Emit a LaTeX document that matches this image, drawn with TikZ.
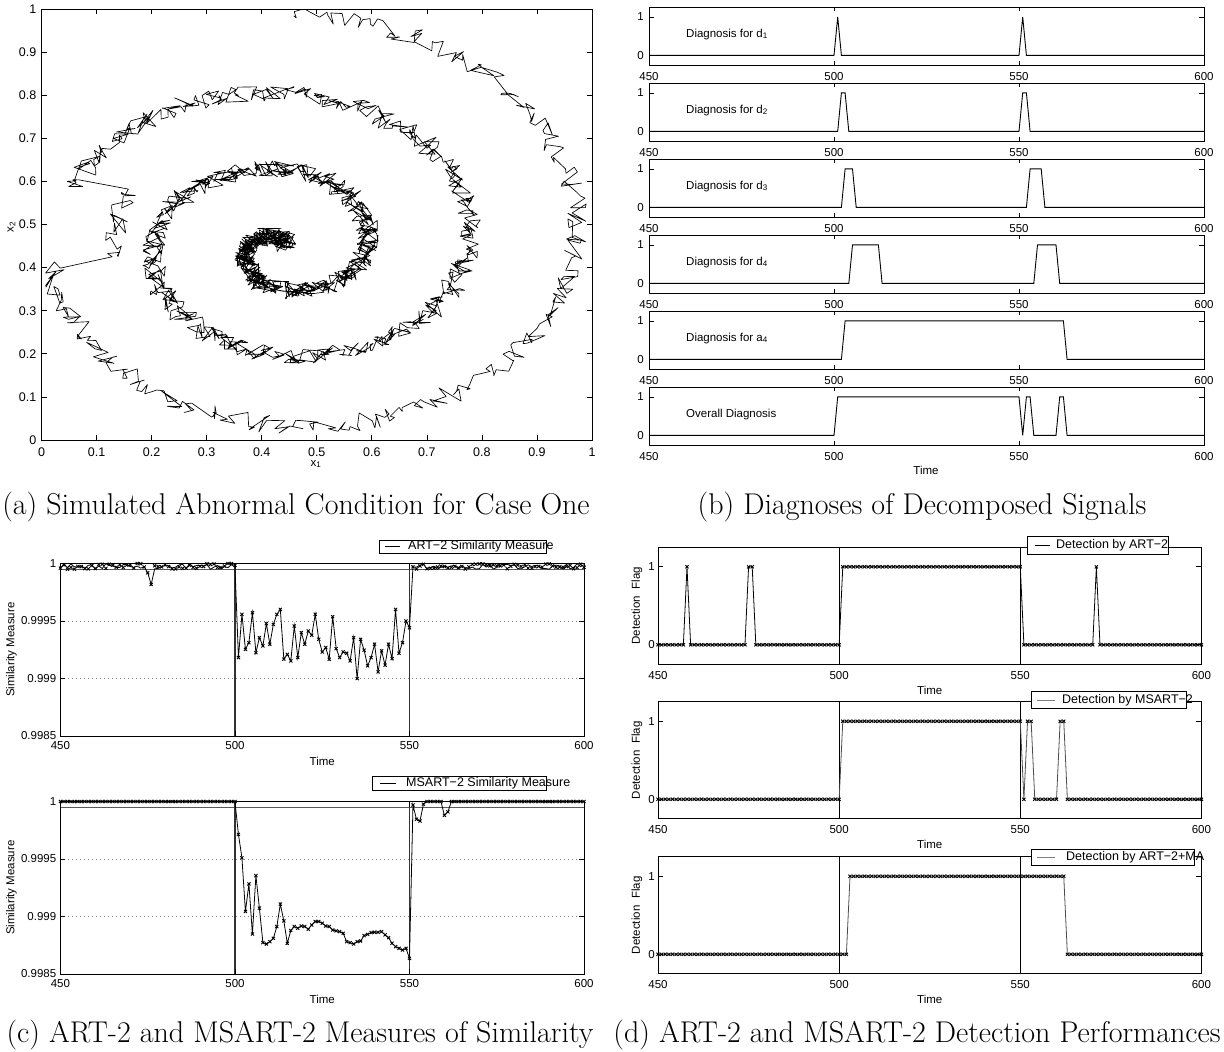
\documentclass[tikz,border=0pt]{standalone}
\usepackage{fontspec}
\usepackage{tikz}
\newfontfamily\plotfont{Liberation Sans}
\tikzset{
  axisbox/.style={draw, line width=0.9pt},
  tk/.style={line width=0.7pt},
  ticklabel/.style={font=\plotfont\fontsize{11.5}{13}\selectfont, inner sep=1pt},
  bigticklabel/.style={font=\plotfont\fontsize{12.5}{14}\selectfont, inner sep=1pt},
  axislabel/.style={font=\plotfont\fontsize{11.5}{13}\selectfont, inner sep=1pt},
  diaglabel/.style={font=\plotfont\fontsize{11.5}{13}\selectfont, inner sep=0pt, anchor=west},
  leglabel/.style={font=\plotfont\fontsize{12.5}{14}\selectfont, inner sep=0pt, anchor=west},
  legbox/.style={draw, fill=white, line width=0.9pt},
  legline/.style={line width=0.9pt},
  caption/.style={font=\fontsize{30}{34}\selectfont, inner sep=0pt},
  trace/.style={line width=0.65pt, line join=round},
  sigline/.style={line width=0.9pt},
  art/.style={line width=0.8pt, mark=x, mark size=2.2pt, mark options={line width=0.9pt}},
  msart/.style={line width=0.8pt, gray!60!black, mark=x, mark size=2.2pt,
    mark options={black, line width=0.9pt}},
  gridline/.style={gray, line width=0.7pt, dash pattern=on 1pt off 3pt},
  thresh/.style={gray!70!black, line width=0.9pt},
  eventline/.style={gray!40!black, line width=1.4pt},
  % data frames of the subplots (pixel shift, then data units)
  subb/.style={shift={({-1016pt},{-(55.4+76*#1)*1pt})}, x=3.7pt, y=38.47pt},
  subc/.style={shift={({-1510.4pt},{-#1*1pt})}, x=3.4907pt, y=11.5pt},
  subd/.style={shift={({-972.2pt},{-#1*1pt})}, x=3.6227pt, y=78pt}
}

\begin{document}
\begin{tikzpicture}[x=1pt, y=-1pt]
  \useasboundingbox (0,0) rectangle (1224,1052);

  % ---------------- (a) spiral trajectory ----------------
  \begin{scope}[shift={(41.5,440)}, x=550.5pt, y=431pt]
    \begin{scope}
      \clip (0,0) rectangle (1,1);
      \pgfmathsetseed{11}
      \draw[trace]
        plot[domain=0:262, samples=320, variable=\t]
          ({0.45-0.012*\t/1100+1.1*0.52*(1-\t/1150)^1.1*sin(\t)+0.02*rand},
           {0.47-0.03*\t/1100+0.52*(1-\t/1150)^1.1*cos(\t)+0.02*rand})
        -- plot[domain=264:288, samples=30, variable=\t]
          ({0.56-0.012*\t/1100+1.1*0.52*(1-\t/1150)^1.1*sin(\t)+0.02*rand},
           {0.47-0.03*\t/1100+0.52*(1-\t/1150)^1.1*cos(\t)+0.02*rand})
        -- plot[domain=290:1100, samples=1400, variable=\t]
          ({0.45-0.012*\t/1100+1.1*0.52*(1-\t/1150)^1.1*sin(\t)+0.02*rand},
           {0.47-0.03*\t/1100+0.52*(1-\t/1150)^1.1*cos(\t)+0.02*rand});
    \end{scope}
    % Axes
    \draw[axisbox] (0,0) rectangle (1,1);
    \foreach \v [count=\i] in {0,0.1,0.2,0.3,0.4,0.5,0.6,0.7,0.8,0.9,1} {
      \draw[tk] (\v,0) -- ++(0,5pt) (\v,1) -- ++(0,-5pt)
                (0,\v) -- ++(5pt,0) (1,\v) -- ++(-5pt,0);
      \node[bigticklabel, yshift=-12pt] (xa\i) at (\v,0) {\v};
      \node[bigticklabel, anchor=east, xshift=-4pt] (ya\i) at (0,\v) {\v};
    }
  \end{scope}
  \node[axislabel] (xlaba) at (316,464) {x\textsubscript{1}};
  \node[axislabel, rotate=90] (ylaba) at (11.5,227) {x\textsubscript{2}};

  % ---------------- (b) decomposed diagnoses ----------------
  \foreach \k in {0,...,5} {
    \begin{scope}[subb=\k]
      \draw[axisbox] (450,-0.25) rectangle (600,1.25);
      \foreach \t in {500,550}
        \draw[tk] (\t,-0.25) -- ++(0,4pt) (\t,1.25) -- ++(0,-4pt);
      \foreach \v in {0,1} {
        \draw[tk] (450,\v) -- ++(5pt,0) (600,\v) -- ++(-5pt,0);
        \node[ticklabel, anchor=east, xshift=-4pt] (yb\k-\v) at (450,\v) {\v};
      }
      \foreach \t in {450,500,550,600}
        \node[ticklabel, yshift=-12pt] (xb\k-\t) at (\t,-0.25) {\t};
    \end{scope}
  }
  \begin{scope}[subb=0]
    \draw[sigline] (450,0) -- (500,0) -- (501,1) -- (502,0) -- (550,0)
      -- (551,1) -- (552,0) -- (600,0);
  \end{scope}
  \begin{scope}[subb=1]
    \draw[sigline] (450,0) -- (501,0) -- (502,1) -- (503,1) -- (504,0)
      -- (550,0) -- (551,1) -- (552,1) -- (553,0) -- (600,0);
  \end{scope}
  \begin{scope}[subb=2]
    \draw[sigline] (450,0) -- (502,0) -- (503,1) -- (505,1) -- (506,0)
      -- (552,0) -- (553,1) -- (556,1) -- (557,0) -- (600,0);
  \end{scope}
  \begin{scope}[subb=3]
    \draw[sigline] (450,0) -- (504,0) -- (505,1) -- (512,1) -- (513,0)
      -- (554,0) -- (555,1) -- (560,1) -- (561,0) -- (600,0);
  \end{scope}
  \begin{scope}[subb=4]
    \draw[sigline] (450,0) -- (502,0) -- (503,1) -- (562,1) -- (563,0)
      -- (600,0);
  \end{scope}
  \begin{scope}[subb=5]
    \draw[sigline] (450,0) -- (500,0) -- (501,1) -- (550,1) -- (551,0)
      -- (552,1) -- (553,1) -- (554,0) -- (560,0) -- (561,1) -- (562,1) -- (563,0)
      -- (600,0);
  \end{scope}
  \foreach \k/\txt in {0/{Diagnosis for d\textsubscript{1}},
                       1/{Diagnosis for d\textsubscript{2}},
                       2/{Diagnosis for d\textsubscript{3}},
                       3/{Diagnosis for d\textsubscript{4}},
                       4/{Diagnosis for a\textsubscript{4}},
                       5/{Overall Diagnosis}}
    \node[diaglabel] (lab\k) at (686,{34.2+76*\k}) {\txt};
  \node[axislabel] (timeb) at (926,470) {Time};

  % ---------------- (c) similarity measures ----------------
  \foreach \yb/\j in {736/1, 974/2} {
    \begin{scope}[subc=\yb]
      \foreach \g in {5,10}
        \draw[gridline] (450,\g) -- (600,\g);
      \draw[thresh] (450,14.5) -- (600,14.5);
      \foreach \t in {500,550}
        \draw[eventline] (\t,0) -- (\t,15);
      \draw[axisbox] (450,0) rectangle (600,15);
      \foreach \g/\l [count=\i] in {0/0.9985,5/0.999,10/0.9995,15/1} {
        \draw[tk] (450,\g) -- ++(5pt,0) (600,\g) -- ++(-5pt,0);
        \node[ticklabel, anchor=east, xshift=-3pt] (yc\j-\i) at (450,\g) {\l};
      }
      \foreach \t in {450,500,550,600} {
        \draw[tk] (\t,0) -- ++(0,5pt) (\t,15) -- ++(0,-5pt);
        \node[ticklabel, yshift=-10pt] (xc\j-\t) at (\t,0) {\t};
      }
      \node[axislabel, yshift=-25pt] (timec\j) at (525,0) {Time};
    \end{scope}
    \node[axislabel, rotate=90] (ylabc\j) at (11.5,{\yb-86.3}) {Similarity Measure};
  }
  % ART-2 similarity
  \pgfmathsetseed{5}
  \begin{scope}[subc=736]
    \draw[art]
      plot[samples at={450,...,474}, variable=\t] (\t,{15-0.5*rnd})
      -- plot coordinates {(475,14.19) (476,13.18)}
      -- plot[samples at={477,...,500}, variable=\t] (\t,{15-0.5*rnd})
      -- plot coordinates {(501,6.82) (502,10.58) (503,7.54) (504,8.12) (505,10.72)
        (506,7.25) (507,8.55) (508,7.83) (509,9.77) (510,7.98) (511,9.71) (512,10.58)
        (513,11.01) (514,6.68) (515,7.10) (516,6.53) (517,9.57) (518,6.82) (519,8.99)
        (520,7.98) (521,9.13) (522,8.76) (523,10.58) (524,8.41) (525,7.31) (526,7.69)
        (527,6.68) (528,10.38) (529,7.60) (530,6.82) (531,7.31) (532,7.20) (533,6.53)
        (534,8.55) (535,5.00) (536,8.41) (537,7.46) (538,6.10) (539,6.82) (540,7.98)
        (541,5.58) (542,7.40) (543,6.16) (544,7.98) (545,6.73) (546,11.01) (547,7.20)
        (548,8.12) (549,10.00) (550,9.42)}
      -- plot[samples at={551,...,600}, variable=\t] (\t,{15-0.5*rnd});
  \end{scope}
  % MSART-2 similarity
  \begin{scope}[subc=974]
    \draw[art]
      plot[samples at={450,...,500}, variable=\t] (\t,15)
      -- plot coordinates {(501,12.14) (502,10.10) (503,5.44) (504,7.83) (505,3.48)
        (506,8.56) (507,5.73) (508,2.73) (509,2.61) (510,2.81) (511,3.10) (512,4.13)
        (513,6.08) (514,4.62) (515,2.67) (516,3.78) (517,4.13) (518,3.98) (519,4.18)
        (520,4.13) (521,3.90) (522,4.27) (523,4.56) (524,4.56) (525,4.42) (526,4.18)
        (527,4.13) (528,3.83) (529,3.75) (530,3.69) (531,3.54) (532,2.81) (533,2.73)
        (534,2.61) (535,2.81) (536,2.87) (537,3.34) (538,3.45) (539,3.60) (540,3.63)
        (541,3.63) (542,3.69) (543,3.40) (544,3.16) (545,2.67) (546,2.38) (547,2.23)
        (548,2.08) (549,2.23) (550,1.36) (551,14.7) (552,13.45) (553,13.3) (554,14.77)
        (555,15) (556,15) (557,15) (558,15) (559,15) (560,13.8) (561,14.1) (562,15)}
      -- plot[samples at={563,...,600}, variable=\t] (\t,15);
  \end{scope}
  % Legends
  \draw[legbox] (379,540) rectangle (546,553.3);
  \draw[legline] (385,546.7) -- (400,546.7);
  \node[leglabel] (legc1) at (408,546.7) {ART−2 Similarity Measure};
  \draw[legbox] (372,776.7) rectangle (546,790.7);
  \draw[legline] (380,783.7) -- (396,783.7);
  \node[leglabel] (legc2) at (406,783.7) {MSART−2 Similarity Measure};

  % ---------------- (d) detection flags ----------------
  \foreach \yz/\j in {644.8/1, 799.3/2, 954.3/3} {
    \begin{scope}[subd=\yz]
      \foreach \t in {500,550}
        \draw[tk] (\t,-0.25) -- (\t,1.25);
      \draw[axisbox] (450,-0.25) rectangle (600,1.25);
      \foreach \v in {0,1} {
        \draw[tk] (450,\v) -- ++(5pt,0) (600,\v) -- ++(-5pt,0);
        \node[ticklabel, anchor=east, xshift=-2pt] (yd\j-\v) at (450,\v) {\v};
      }
      \foreach \t in {450,500,550,600}
        \node[ticklabel, yshift=-11pt] (xd\j-\t) at (\t,-0.25) {\t};
      \node[axislabel, yshift=-26pt] (timed\j) at (525,-0.25) {Time};
    \end{scope}
    \node[axislabel, rotate=90] (ylabd\j) at (637,{\yz-39}) {Detection\hspace{0.3em} Flag};
  }
  \begin{scope}[subd=644.8]
    \draw[art] plot[samples at={450,...,600}, variable=\t]
      (\t,{((\t==458) || (\t==475) || (\t==476) || ((\t>500) && (\t<551)) || (\t==571)) ? 1 : 0});
  \end{scope}
  \begin{scope}[subd=799.3]
    \draw[msart] plot[samples at={450,...,600}, variable=\t]
      (\t,{(((\t>500) && (\t<551)) || (\t==552) || (\t==553) || (\t==561) || (\t==562)) ? 1 : 0});
  \end{scope}
  \begin{scope}[subd=954.3]
    \draw[msart] plot[samples at={450,...,600}, variable=\t]
      (\t,{((\t>502) && (\t<563)) ? 1 : 0});
  \end{scope}
  % Legends
  \draw[legbox] (1027.7,536) rectangle (1168.4,554);
  \draw[legline] (1034.7,545) -- (1050,545);
  \node[leglabel] (legd1) at (1056,545) {Detection by ART−2};
  \draw[legbox] (1031,691.7) rectangle (1186.7,708.3);
  \draw[legline, gray] (1037,700) -- (1055,700);
  \node[leglabel] (legd2) at (1062,700) {Detection by MSART−2};
  \draw[legbox] (1031.6,849.3) rectangle (1194.4,865);
  \draw[legline, gray] (1037,857.2) -- (1055,857.2);
  \node[leglabel] (legd3) at (1066,857.2) {Detection by ART−2+MA};

  % ---------------- captions ----------------
  \node[caption] (capa) at (296,507) {(a) Simulated Abnormal Condition for Case One};
  \node[caption] (capb) at (922,507) {(b) Diagnoses of Decomposed Signals};
  \node[caption] (capc) at (300,1035) {(c) ART-2 and MSART-2 Measures of Similarity};
  \node[caption] (capd) at (917,1035) {(d) ART-2 and MSART-2 Detection Performances};
\end{tikzpicture}
\end{document}
